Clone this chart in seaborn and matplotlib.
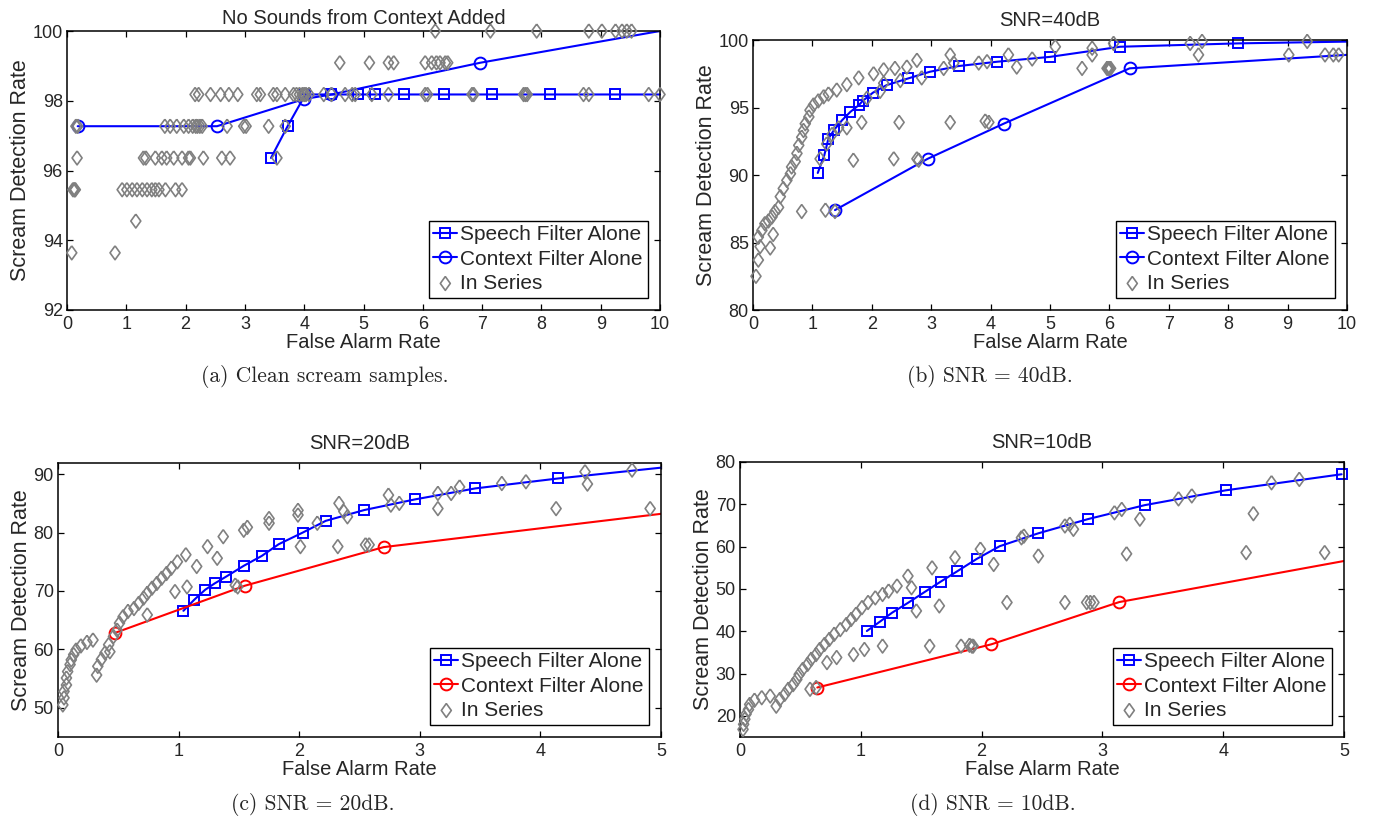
import numpy as np
import pandas as pd
import matplotlib.pyplot as plt
import seaborn as sns

sns.set_theme(style='ticks')
plt.rcParams['font.family'] = ['Liberation Sans', 'DejaVu Sans']
plt.rcParams['font.size'] = 13
plt.rcParams['xtick.direction'] = 'in'
plt.rcParams['ytick.direction'] = 'in'
plt.rcParams['xtick.top'] = True
plt.rcParams['ytick.right'] = True
plt.rcParams['axes.linewidth'] = 1.1
plt.rcParams['axes.edgecolor'] = 'black'

BLUE = (0, 0, 1)
RED = (1, 0, 0)
GRAY = (0.5, 0.5, 0.5)

# ---- (a) clean scream samples ----
a_speech_x = [3.44, 3.72, 4.02, 4.46, 4.90, 5.19, 5.68, 6.36, 7.17, 8.15, 9.24, 10.0]
a_speech_y = [96.36, 97.27, 98.18, 98.18, 98.18, 98.18, 98.18, 98.18, 98.18, 98.18, 98.18, 98.18]
a_context_x = [0.18, 2.53, 4.0, 4.46, 6.97, 10.0]
a_context_y = [97.27, 97.27, 98.05, 98.18, 99.09, 100.0]
a_levels = [100.0, 99.09, 98.18, 97.27, 96.36, 95.45, 94.55, 93.64]
a_level_x = [
    [6.21, 7.14, 7.92, 8.80, 9.02, 9.25, 9.36, 9.44, 9.52],
    [4.60, 5.10, 5.42, 5.51, 6.04, 6.15, 6.23, 6.29, 6.38, 6.42],
    [2.16, 2.22, 2.42, 2.59, 2.73, 2.88, 3.20, 3.26, 3.48, 3.54, 3.68, 3.82, 3.87, 3.92,
     3.97, 4.0, 4.03, 4.08, 4.33, 4.46, 4.69, 4.81, 4.86, 5.14, 5.42, 6.04, 6.08, 6.83,
     6.86, 7.70, 7.73, 7.76, 8.71, 8.80, 9.81, 10.0],
    [0.15, 0.18, 1.65, 1.74, 1.85, 1.97, 2.05, 2.12, 2.17, 2.20, 2.24, 2.28, 2.70, 2.98,
     3.02, 3.40, 3.68],
    [0.17, 1.29, 1.33, 1.49, 1.60, 1.68, 1.80, 1.94, 2.05, 2.08, 2.30, 2.61, 2.75, 3.54],
    [0.10, 0.12, 0.13, 0.14, 0.93, 1.01, 1.10, 1.18, 1.27, 1.35, 1.43, 1.49, 1.55, 1.66,
     1.83, 1.94],
    [1.16],
    [0.08, 0.81],
]
a_series_x = [x for xs in a_level_x for x in xs]
a_series_y = [lv for lv, xs in zip(a_levels, a_level_x) for _ in xs]

# ---- (b) SNR = 40dB ----
b_speech_x = [1.09, 1.20, 1.27, 1.37, 1.50, 1.64, 1.78, 1.85, 2.02, 2.25, 2.61, 2.98, 3.46,
              4.11, 5.0, 6.18, 8.17, 10.0]
b_speech_y = [90.15, 91.46, 92.7, 93.37, 94.06, 94.68, 95.17, 95.5, 96.1, 96.66, 97.15, 97.65,
              98.07, 98.39, 98.75, 99.5, 99.75, 99.88]
b_context_x = [1.38, 2.94, 4.22, 6.34, 10.0]
b_context_y = [87.4, 91.2, 93.8, 97.9, 98.9]
b_series_x = [0.05, 0.09, 0.12, 0.29, 0.09, 0.15, 0.20, 0.26, 0.32, 0.34, 0.37, 0.43, 0.46,
              0.51, 0.57, 0.63, 0.65, 0.71, 0.74, 0.77, 0.82, 0.85, 0.88, 0.94, 0.96, 1.02,
              1.10, 1.19, 1.27, 1.41, 1.58, 1.78, 2.03, 2.20, 2.39, 2.59, 2.76, 3.32,
              1.13, 1.24, 1.33, 1.44, 1.58, 1.92, 2.14, 2.20, 2.48, 2.84, 3.21, 3.38, 3.80,
              3.94, 4.30, 4.44, 4.70,
              0.82, 1.22, 1.38, 1.69, 2.37, 2.76, 2.79, 1.83, 2.46, 3.32, 3.91, 3.97,
              5.09, 5.54, 5.71, 5.71, 5.96, 5.98, 6.00, 6.02, 6.07, 7.36, 7.56, 7.50, 9.02,
              9.33, 9.63, 9.77, 9.86]
b_series_y = [82.5, 83.7, 84.7, 84.6, 85.4, 85.9, 86.4, 86.6, 86.9, 85.6, 87.3, 87.6, 88.4,
              89.0, 89.6, 90.1, 90.6, 91.0, 91.6, 92.2, 92.8, 93.3, 93.8, 94.3, 94.8, 95.2,
              95.5, 95.8, 96.0, 96.3, 96.7, 97.2, 97.5, 97.8, 97.9, 98.0, 98.5, 98.9,
              91.2, 92.3, 93.0, 93.5, 93.5, 95.7, 96.2, 96.8, 97.0, 97.2, 97.9, 98.3, 98.3,
              98.4, 98.9, 98.0, 98.6,
              87.3, 87.4, 87.3, 91.1, 91.2, 91.2, 91.1, 93.9, 93.9, 93.9, 94.0, 93.9,
              99.5, 97.9, 99.4, 98.9, 97.9, 97.9, 97.9, 97.9, 99.75, 99.75, 99.9, 98.9, 98.9,
              99.9, 98.9, 98.9, 98.9]

# ---- (c) SNR = 20dB ----
c_speech_x = [1.04, 1.13, 1.22, 1.30, 1.39, 1.54, 1.69, 1.83, 2.03, 2.22, 2.54, 2.96, 3.46,
              4.15, 5.0]
c_speech_y = [66.6, 68.5, 70.2, 71.3, 72.4, 74.3, 76.0, 78.0, 80.0, 82.0, 83.85, 85.67, 87.55,
              89.26, 91.1]
c_context_x = [0.47, 1.55, 2.70, 5.0]
c_context_y = [62.8, 70.9, 77.5, 83.2]
c_series_x = [0.04, 0.05, 0.05, 0.07, 0.07, 0.08, 0.10, 0.11, 0.13, 0.15, 0.19, 0.24, 0.29,
              0.32, 0.33, 0.36, 0.39, 0.43, 0.42, 0.46, 0.49, 0.51, 0.54, 0.58, 0.63, 0.67,
              0.71, 0.74, 0.78, 0.82, 0.86, 0.90, 0.94, 0.99, 1.06,
              0.74, 0.97, 1.07, 1.15, 1.24, 1.32, 1.37, 1.47, 1.49, 1.54, 1.57, 1.75, 1.75,
              1.99, 1.99, 2.01, 2.15, 2.32, 2.33, 2.37, 2.40, 2.55, 2.58,
              2.74, 2.76, 2.83, 3.15, 3.15, 3.26, 3.33, 3.68, 3.88, 4.13, 4.37, 4.39, 4.76,
              4.91]
c_series_y = [50.5, 51.7, 52.8, 53.9, 55.1, 56.2, 57.4, 58.2, 59.1, 59.9, 60.6, 61.2, 61.6,
              55.6, 57.1, 58.3, 59.4, 59.6, 60.8, 62.2, 63.3, 64.5, 65.6, 66.5, 67.0, 67.9,
              68.8, 69.6, 70.5, 71.3, 72.2, 73.0, 73.9, 75.0, 76.2,
              65.9, 69.9, 70.7, 74.2, 77.6, 75.6, 79.3, 71.0, 70.7, 80.4, 80.9, 82.4, 81.6,
              83.8, 83.0, 77.6, 81.6, 77.6, 85.0, 83.6, 82.7, 77.9, 77.9,
              86.4, 84.7, 85.0, 86.7, 84.1, 86.7, 87.8, 88.4, 88.7, 84.1, 90.4, 88.3, 90.7,
              84.1]

# ---- (d) SNR = 10dB ----
d_speech_x = [1.05, 1.16, 1.26, 1.39, 1.53, 1.66, 1.80, 1.96, 2.15, 2.47, 2.88, 3.35, 4.02,
              4.98]
d_speech_y = [40.05, 42.3, 44.4, 46.7, 49.3, 51.7, 54.2, 57.1, 60.1, 63.15, 66.5, 69.8, 73.3,
              77.1]
d_context_x = [0.64, 2.08, 3.14, 5.0]
d_context_y = [26.7, 36.9, 46.9, 56.6]
d_series_x = [0.025, 0.03, 0.04, 0.05, 0.07, 0.08, 0.12, 0.18, 0.25, 0.30, 0.33, 0.37, 0.40,
              0.44, 0.47, 0.49, 0.52, 0.56, 0.59, 0.63, 0.66, 0.70, 0.74, 0.78, 0.83, 0.88,
              0.92, 0.96, 1.01, 1.06, 1.12, 1.18, 1.23, 1.30, 1.39, 1.42, 1.46, 1.59, 1.57,
              1.65, 1.78, 1.83, 1.90, 1.92, 1.93, 1.99, 2.10, 2.21, 2.33, 2.35, 2.47,
              0.58, 0.63, 0.72, 0.80, 0.94, 1.03, 1.18,
              2.69, 2.73, 2.76, 2.69, 2.87, 2.90, 2.93, 3.10, 3.16, 3.20, 3.31, 3.63, 3.74,
              4.19, 4.25, 4.40, 4.63, 4.84]
d_series_y = [16.8, 18.0, 19.2, 20.4, 21.5, 22.7, 23.7, 24.3, 24.7, 22.3, 23.9, 25.1, 26.3,
              27.4, 28.6, 29.8, 31.0, 32.2, 33.4, 34.5, 35.7, 36.9, 38.1, 39.3, 40.4, 41.6,
              42.8, 44.0, 45.6, 46.8, 47.9, 48.7, 49.5, 50.7, 53.05, 50.3, 44.8, 55.0, 36.5,
              46.0, 57.4, 36.5, 36.7, 36.5, 36.5, 59.4, 55.8, 46.8, 62.1, 62.5, 57.8,
              26.3, 26.7, 32.6, 33.8, 34.5, 35.7, 36.5,
              64.9, 65.3, 64.1, 46.8, 46.8, 46.8, 46.8, 68.0, 68.8, 58.3, 66.5, 71.3, 72.0,
              58.6, 67.8, 75.1, 75.9, 58.6]

# MATLAB-like diamond (a little taller than wide)
DIAMOND = [(0, 1), (0.72, 0), (0, -1), (-0.72, 0), (0, 1)]

W, H = 1382, 823
fig = plt.figure(figsize=(W / 100, H / 100), dpi=100)


def px_axes(l, t, r, b):
    return fig.add_axes([l / W, 1 - b / H, (r - l) / W, (b - t) / H])


def panel(ax, sx, sy, cx, cy, ccol, ex, ey, speech_mark_last=False):
    n = len(sx) if speech_mark_last else len(sx) - 1
    sns.lineplot(x=sx, y=sy, ax=ax, estimator=None, sort=False, color=BLUE, lw=1.5,
                 marker='s', markersize=7, mfc='none', mec=BLUE, mew=1.4,
                 markevery=list(range(n)), label='Speech Filter Alone', clip_on=False)
    sns.lineplot(x=cx, y=cy, ax=ax, estimator=None, sort=False, color=ccol, lw=1.5,
                 marker='o', markersize=8.5, mfc='none', mec=ccol, mew=1.4,
                 markevery=list(range(len(cx) - 1)), label='Context Filter Alone')
    sns.scatterplot(x=ex, y=ey, ax=ax, marker=DIAMOND, s=100, color=GRAY, facecolor='none',
                    edgecolor=GRAY, linewidth=1.2, label='In Series', zorder=3, clip_on=False)
    ax.set_xlabel('False Alarm Rate', fontsize=14.5, labelpad=0)
    ax.set_ylabel('Scream Detection Rate', fontsize=15.5, labelpad=1)
    ax.tick_params(axis='both', length=4.5, width=0.9, labelsize=13, color='black')
    ax.tick_params(axis='x', pad=4)
    ax.tick_params(axis='y', pad=3)
    leg = ax.legend(loc='lower right', frameon=True, fancybox=False, framealpha=1,
                    edgecolor='black', fontsize=15, borderpad=0.22, handlelength=1.15,
                    handletextpad=0.15, labelspacing=0.26, borderaxespad=0.6)
    leg.get_frame().set_linewidth(1.0)
    for sp in ax.spines.values():
        sp.set_visible(True)


ax_a = px_axes(67, 31, 660, 310)
panel(ax_a, a_speech_x, a_speech_y, a_context_x, a_context_y, BLUE, a_series_x, a_series_y)
ax_a.set_xlim(0, 10)
ax_a.set_ylim(92, 100)
ax_a.set_xticks(range(0, 11))
ax_a.set_yticks(range(92, 101, 2))
ax_a.set_title('No Sounds from Context Added', fontsize=14.5, pad=5)

ax_b = px_axes(753, 40, 1347, 310)
panel(ax_b, b_speech_x, b_speech_y, b_context_x, b_context_y, BLUE, b_series_x, b_series_y)
ax_b.set_xlim(0, 10)
ax_b.set_ylim(80, 100)
ax_b.set_xticks(range(0, 11))
ax_b.set_yticks(range(80, 101, 5))
ax_b.set_title('SNR=40dB', fontsize=14.5, pad=10)

ax_c = px_axes(58, 463, 661, 737)
panel(ax_c, c_speech_x, c_speech_y, c_context_x, c_context_y, RED, c_series_x, c_series_y)
ax_c.set_xlim(0, 5)
ax_c.set_ylim(45, 91.9)
ax_c.set_xticks(range(0, 6))
ax_c.set_yticks(range(50, 91, 10))
ax_c.set_title('SNR=20dB', fontsize=14.5, pad=10)

ax_d = px_axes(740, 462, 1344, 737)
panel(ax_d, d_speech_x, d_speech_y, d_context_x, d_context_y, RED, d_series_x, d_series_y,
      speech_mark_last=True)
ax_d.set_xlim(0, 5)
ax_d.set_ylim(15, 80)
ax_d.set_xticks(range(0, 6))
ax_d.set_yticks(range(20, 81, 10))
ax_d.set_title('SNR=10dB', fontsize=14.5, pad=10)

cap = dict(family=['cmr10', 'DejaVu Serif'], fontsize=15.5, ha='center', va='center')
fig.text(325 / W, 1 - 377 / H, '(a) Clean scream samples.', **cap)
fig.text(990 / W, 1 - 377 / H, '(b) SNR = 40dB.', **cap)
fig.text(313 / W, 1 - 805 / H, '(c) SNR = 20dB.', **cap)
fig.text(993 / W, 1 - 805 / H, '(d) SNR = 10dB.', **cap)

fig.savefig('out.png', dpi=100)
